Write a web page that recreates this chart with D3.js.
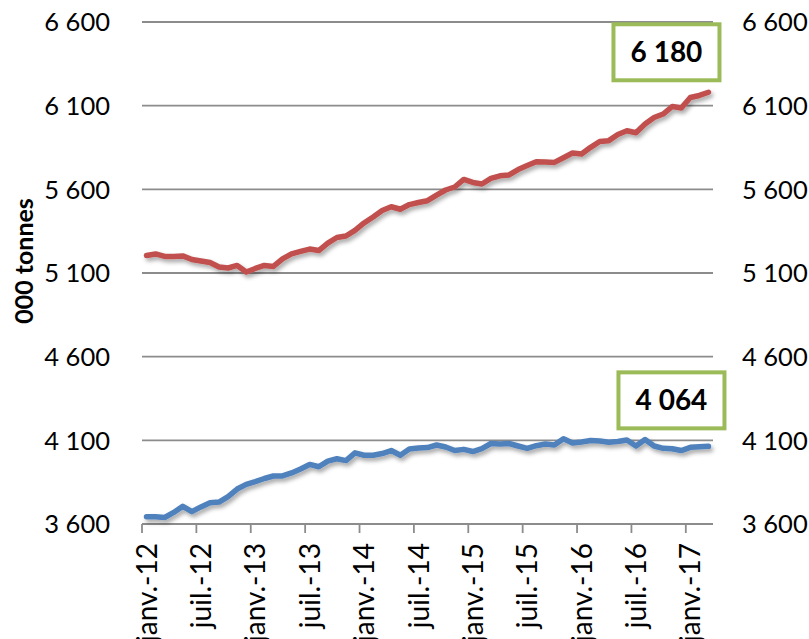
<!DOCTYPE html>
<html>
<head>
<meta charset="utf-8">
<script src="https://cdn.jsdelivr.net/npm/d3@7"></script>
<style>
  body { margin: 0; background: #fff; }
  svg text { font-family: Lato, "Open Sans", sans-serif; fill: #000; }
</style>
</head>
<body>
<div id="chart"></div>
<script>
// monthly series, janv. 2012 -> mars 2017 (000 tonnes)
const monthLabels = ["janv.", "févr.", "mars", "avr.", "mai", "juin", "juil.", "août", "sept.", "oct.", "nov.", "déc."];
const years = [12, 13, 14, 15, 16, 17];
const nMonths = 63;

const redSeries = [5205, 5214, 5199, 5199, 5202, 5181, 5172, 5163, 5136, 5130,
  5145, 5106, 5127, 5145, 5139, 5184, 5214, 5229, 5243, 5234,
  5279, 5312, 5321, 5355, 5399, 5435, 5473, 5496, 5481, 5509,
  5521, 5532, 5565, 5596, 5614, 5659, 5641, 5632, 5665, 5681,
  5686, 5718, 5742, 5765, 5763, 5761, 5789, 5817, 5811, 5851,
  5886, 5891, 5928, 5950, 5938, 5990, 6029, 6050, 6095, 6086,
  6149, 6161, 6180];

const blueSeries = [3644, 3643, 3639, 3669, 3706, 3674, 3702, 3727, 3731, 3764,
  3809, 3837, 3853, 3872, 3887, 3887, 3905, 3929, 3956, 3942,
  3976, 3990, 3979, 4025, 4011, 4011, 4021, 4039, 4011, 4048,
  4054, 4057, 4072, 4060, 4039, 4046, 4033, 4051, 4081, 4078,
  4081, 4066, 4052, 4068, 4078, 4072, 4109, 4084, 4090, 4099,
  4096, 4088, 4093, 4102, 4066, 4105, 4066, 4052, 4050, 4039,
  4058, 4062, 4064];

const yTicks = [3600, 4100, 4600, 5100, 5600, 6100, 6600];
const lastLabels = { red: "6 180", blue: "4 064" };

const categories = d3.range(nMonths).map(i =>
  monthLabels[i % 12] + "-" + years[Math.floor(i / 12)]);

const width = 809, height = 639;
const margin = { top: 22, right: 96, bottom: 115, left: 142 };

const svg = d3.select("#chart").append("svg")
  .attr("width", width)
  .attr("height", height);

const defs = svg.append("defs");
const shadow = defs.append("filter")
  .attr("id", "shadow")
  .attr("x", "-10%").attr("y", "-20%")
  .attr("width", "130%").attr("height", "160%");
shadow.append("feDropShadow")
  .attr("dx", 2).attr("dy", 3)
  .attr("stdDeviation", 2.2)
  .attr("flood-color", "#000")
  .attr("flood-opacity", 0.35);

const x = d3.scaleBand()
  .domain(categories)
  .range([margin.left, width - margin.right]);

const y = d3.scaleLinear()
  .domain([3600, 6600])
  .range([height - margin.bottom, margin.top]);

const fmt = d3.formatLocale({ decimal: ",", thousands: " ", grouping: [3], currency: ["", " €"] }).format(",d");

// gridlines
svg.append("g")
  .attr("class", "grid")
  .selectAll("line")
  .data(yTicks)
  .join("line")
  .attr("x1", margin.left)
  .attr("x2", width - margin.right)
  .attr("y1", d => y(d))
  .attr("y2", d => y(d))
  .attr("stroke", "#8c8c8c")
  .attr("stroke-width", 1.8);

// left + right tick labels
svg.append("g")
  .selectAll("text")
  .data(yTicks)
  .join("text")
  .attr("x", 110)
  .attr("y", d => y(d))
  .attr("dy", "0.36em")
  .attr("text-anchor", "end")
  .attr("font-size", 25.5)
  .text(d => fmt(d));

svg.append("g")
  .selectAll("text")
  .data(yTicks)
  .join("text")
  .attr("x", 742)
  .attr("y", d => y(d))
  .attr("dy", "0.36em")
  .attr("text-anchor", "start")
  .attr("font-size", 25.5)
  .text(d => fmt(d));

// y title
svg.append("text")
  .attr("transform", `translate(24,${(margin.top + height - margin.bottom) / 2 - 12}) rotate(-90)`)
  .attr("text-anchor", "middle")
  .attr("dy", "0.36em")
  .attr("font-size", 25)
  .attr("font-weight", "bold")
  .text("000 tonnes");

// x axis: ticks every 6 months on category boundaries, labels at centre
const xAxis = svg.append("g").attr("class", "x-axis");
const baseY = y(3600);
xAxis.append("line")
  .attr("x1", margin.left).attr("x2", width - margin.right)
  .attr("y1", baseY).attr("y2", baseY)
  .attr("stroke", "#8c8c8c").attr("stroke-width", 1.8);

const labelled = categories.filter((d, i) => i % 6 === 0);
xAxis.selectAll("line.tick")
  .data(labelled)
  .join("line")
  .attr("class", "tick")
  .attr("x1", d => x(d)).attr("x2", d => x(d))
  .attr("y1", baseY).attr("y2", baseY + 9)
  .attr("stroke", "#8c8c8c").attr("stroke-width", 1.8);

xAxis.selectAll("text")
  .data(labelled)
  .join("text")
  .attr("transform", d => `translate(${x(d) + x.bandwidth() / 2},${baseY + 19}) rotate(-90)`)
  .attr("text-anchor", "end")
  .attr("dy", "0.36em")
  .attr("font-size", 28)
  .text(d => d);

// lines
const line = d3.line()
  .x((d, i) => x(categories[i]) + x.bandwidth() / 2)
  .y(d => y(d));

svg.append("path")
  .datum(redSeries)
  .attr("d", line)
  .attr("fill", "none")
  .attr("stroke", "#C0504D")
  .attr("stroke-width", 5.5)
  .attr("stroke-linejoin", "round")
  .attr("stroke-linecap", "round")
  .attr("filter", "url(#shadow)");

svg.append("path")
  .datum(blueSeries)
  .attr("d", line)
  .attr("fill", "none")
  .attr("stroke", "#4F81BD")
  .attr("stroke-width", 5.5)
  .attr("stroke-linejoin", "round")
  .attr("stroke-linecap", "round")
  .attr("filter", "url(#shadow)");

// value boxes for the last month
const lastX = x(categories[nMonths - 1]) + x.bandwidth() / 2;
function valueBox(cx, cy, label) {
  const g = svg.append("g").attr("transform", `translate(${cx},${cy})`);
  g.append("rect")
    .attr("x", -53).attr("y", -28)
    .attr("width", 106).attr("height", 56)
    .attr("fill", "#fff")
    .attr("stroke", "#9BBB59")
    .attr("stroke-width", 4);
  g.append("text")
    .attr("text-anchor", "middle")
    .attr("dy", "0.36em")
    .attr("font-size", 28)
    .attr("font-weight", "bold")
    .text(label);
}
valueBox(lastX - 42, y(redSeries[nMonths - 1]) - 40, lastLabels.red);
valueBox(lastX - 37, y(blueSeries[nMonths - 1]) - 46, lastLabels.blue);
</script>
</body>
</html>
